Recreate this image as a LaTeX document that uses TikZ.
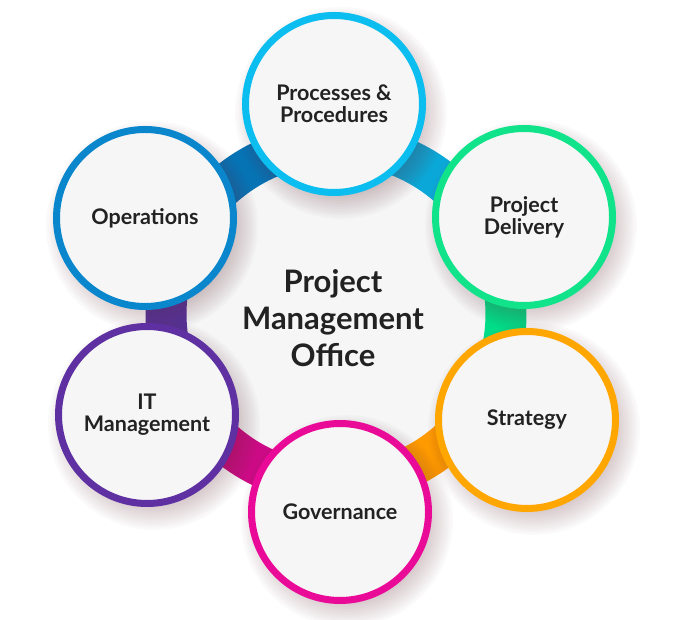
\documentclass[tikz,border=0pt]{standalone}
\usepackage{fontspec}
\setmainfont{Lato}[UprightFont=* Bold]
\definecolor{cP}{HTML}{0CBDEF}
\definecolor{cD}{HTML}{10E38A}
\definecolor{cS}{HTML}{FFA600}
\definecolor{cG}{HTML}{EA0A98}
\definecolor{cI}{HTML}{5E30A2}
\definecolor{cO}{HTML}{0A86CC}
\definecolor{bP}{HTML}{0AA8D8}
\definecolor{bD}{HTML}{00DD88}
\definecolor{bS}{HTML}{FF9A00}
\definecolor{bG}{HTML}{CC0A85}
\definecolor{bI}{HTML}{56309A}
\definecolor{bO}{HTML}{0673B5}
\definecolor{disc}{HTML}{F6F6F6}
\definecolor{cfill}{HTML}{F6F6F6}
\definecolor{txt}{HTML}{222222}
\definecolor{shad}{HTML}{6A3A44}
\tikzset{
  band/.style={line width=41pt},
  item/.style={circle, draw, line width=7pt, minimum size=177pt, inner sep=0pt,
    fill=cfill, align=center, text=txt,
    font=\fontsize{21.5}{22}\selectfont},
  title/.style={align=center, text=txt, font=\fontsize{31}{37}\selectfont},
  shadowdisc/.style={fill=shad, opacity=0.024}
}
\begin{document}
\begin{tikzpicture}[x=1pt,y=1pt]
\useasboundingbox (0,0) rectangle (679,620);
\coordinate (c) at (336,306);
\coordinate (pP) at (334,516);
\coordinate (pD) at (524,403);
\coordinate (pS) at (527,200);
\coordinate (pG) at (340,108);
\coordinate (pI) at (147,205);
\coordinate (pO) at (145,402);
\fill[disc] (c) circle[radius=170];
% ring bands
\draw[band,bP] ([shift={(91:170)}]c) arc[start angle=91, end angle=27, radius=170];
\draw[band,bD] ([shift={(28:170)}]c) arc[start angle=28, end angle=-30, radius=170];
\draw[band,bS] ([shift={(-29:170)}]c) arc[start angle=-29, end angle=-89, radius=170];
\draw[band,bG] ([shift={(-88:170)}]c) arc[start angle=-88, end angle=-152, radius=170];
\draw[band,bI] ([shift={(-151:170)}]c) arc[start angle=-151, end angle=-207, radius=170];
\draw[band,bO] ([shift={(-206:170)}]c) arc[start angle=-206, end angle=-269, radius=170];
% soft shadows
\foreach \p in {pP,pD,pS,pG,pI,pO}{
  \foreach \i in {1,...,14}{
    \fill[shadowdisc] ([shift={(7,-9)}]\p) circle[radius=78+2*\i];
  }
}
% title
\node[title] (pmo) at (333,302) {Project\\Management\\Office};
% items
\node[item, draw=cP] (proc) at (pP) {Processes \&\\Procedures};
\node[item, draw=cD] (deliv) at (pD) {Project\\Delivery};
\node[item, draw=cS] (strat) at (pS) {Strategy};
\node[item, draw=cG] (gov) at (pG) {Governance};
\node[item, draw=cI] (itm) at (pI) {IT\\Management};
\node[item, draw=cO] (ops) at (pO) {Operations};
\end{tikzpicture}
\end{document}
